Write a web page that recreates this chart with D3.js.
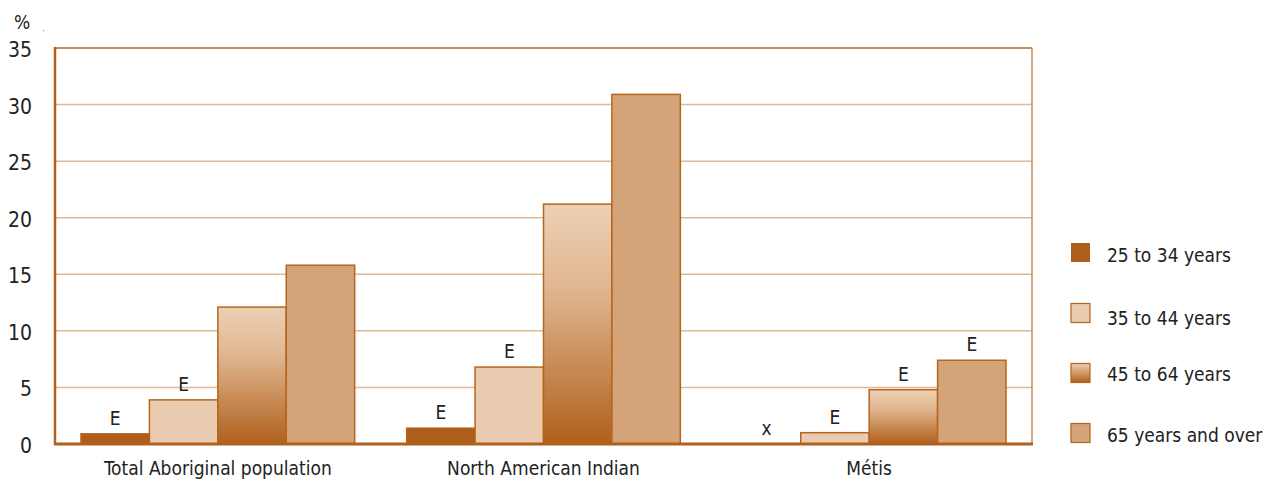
<!DOCTYPE html>
<html><head><meta charset="utf-8">
<script src="https://cdn.jsdelivr.net/npm/d3@7"></script>
<style>body{margin:0;background:#fff}text{font-family:"Liberation Sans Narrow","DejaVu Sans Condensed","Roboto",sans-serif;fill:#222}</style>
</head><body><svg id="c" width="1267" height="481"></svg>
<script>
const categories = ["Total Aboriginal population","North American Indian","Métis"];
const series = ["25 to 34 years","35 to 44 years","45 to 64 years","65 years and over"];
const values = [
  [0.9, 3.9, 12.1, 15.8],
  [1.4, 6.8, 21.2, 30.9],
  [0, 1.0, 4.8, 7.4]
];
const flags = [
  ["E","E","",""],
  ["E","E","",""],
  ["x","E","E","E"]
];
const yTicks = [0,5,10,15,20,25,30,35];

const svg = d3.select("#c");
const L=55,R=1032,T=48,B=444;
const y = d3.scaleLinear().domain([0,35]).range([B,T]);
const x0 = d3.scaleBand().domain(categories).range([L,R]).padding(0);
const x1 = d3.scaleBand().domain(series).range([26,x0.bandwidth()-26]).padding(0);

const defs = svg.append("defs");
const g = defs.append("linearGradient").attr("id","grad").attr("x1",0).attr("x2",0).attr("y1",0).attr("y2",1);
g.append("stop").attr("offset","0%").attr("stop-color","#ecd0b4");
g.append("stop").attr("offset","35%").attr("stop-color","#e0b690");
g.append("stop").attr("offset","100%").attr("stop-color","#b0601c");
const gl = defs.append("linearGradient").attr("id","gradL").attr("x1",0).attr("x2",0).attr("y1",0).attr("y2",1);
gl.append("stop").attr("offset","0%").attr("stop-color","#ecd0b4");
gl.append("stop").attr("offset","100%").attr("stop-color","#b0601c");
const fills = ["#ad5e1b","#e9cbb0","url(#grad)","#d4a377"];
const legFills = ["#ad5e1b","#e9cbb0","url(#gradL)","#d4a377"];

// gridlines
svg.append("g").selectAll("line").data(yTicks.filter(d=>d>0 && d<35)).join("line")
  .attr("x1",L).attr("x2",R).attr("y1",d=>y(d)).attr("y2",d=>y(d))
  .attr("stroke","#e0b894").attr("stroke-width",1.5);
// frame
svg.append("line").attr("x1",L).attr("x2",R).attr("y1",T).attr("y2",T).attr("stroke","#b5651d").attr("stroke-width",1.5);
svg.append("line").attr("x1",R).attr("x2",R).attr("y1",T).attr("y2",B).attr("stroke","#c98a52").attr("stroke-width",1.5);

// bars
const grp = svg.append("g").selectAll("g").data(categories).join("g")
  .attr("transform",d=>`translate(${x0(d)},0)`);
grp.each(function(c,ci){
  const gg = d3.select(this);
  series.forEach((s,si)=>{
    const v = values[ci][si];
    if(v>0){
      gg.append("rect").attr("x",x1(s)).attr("width",x1.bandwidth())
        .attr("y",y(v)).attr("height",y(0)-y(v))
        .attr("fill",fills[si]).attr("stroke","#b5651d").attr("stroke-width",1.5);
    }
    if(flags[ci][si]){
      gg.append("text").attr("x",x1(s)+x1.bandwidth()/2).attr("y",y(v)-9)
        .attr("text-anchor","middle").attr("font-size",19).text(flags[ci][si]);
    }
  });
});

// axes lines
svg.append("line").attr("x1",L).attr("x2",L).attr("y1",T-1).attr("y2",B+1).attr("stroke","#b0601c").attr("stroke-width",2.5);
svg.append("line").attr("x1",L-1).attr("x2",R+1).attr("y1",B).attr("y2",B).attr("stroke","#b0601c").attr("stroke-width",3);

// y tick labels
svg.append("g").selectAll("text").data(yTicks).join("text")
  .attr("x",32).attr("y",d=>y(d)+9).attr("text-anchor","end").attr("font-size",21).text(d=>d);
svg.append("text").attr("x",22).attr("y",29).attr("text-anchor","middle").attr("font-size",19).text("%");
svg.append("circle").attr("cx",43.5).attr("cy",30.5).attr("r",0.7).attr("fill","#d08a4a");

// category labels
svg.append("g").selectAll("text").data(categories).join("text")
  .attr("x",d=>x0(d)+x1(series[0])+ (x1.bandwidth()*4)/2).attr("y",475)
  .attr("text-anchor","middle").attr("font-size",19).text(d=>d);

// legend
const legY = [253,313.5,373.5,433.5];
const legTY = [262,325,381,442];
const leg = svg.append("g").selectAll("g").data(series).join("g");
leg.append("rect").attr("x",1071).attr("y",(d,i)=>legY[i]-10).attr("width",19).attr("height",19)
  .attr("fill",(d,i)=>legFills[i]).attr("stroke","#b5651d").attr("stroke-width",(d,i)=>i==0?0:1.2);
leg.append("text").attr("x",1107).attr("y",(d,i)=>legTY[i]).attr("font-size",19).text(d=>d);
</script></body></html>
